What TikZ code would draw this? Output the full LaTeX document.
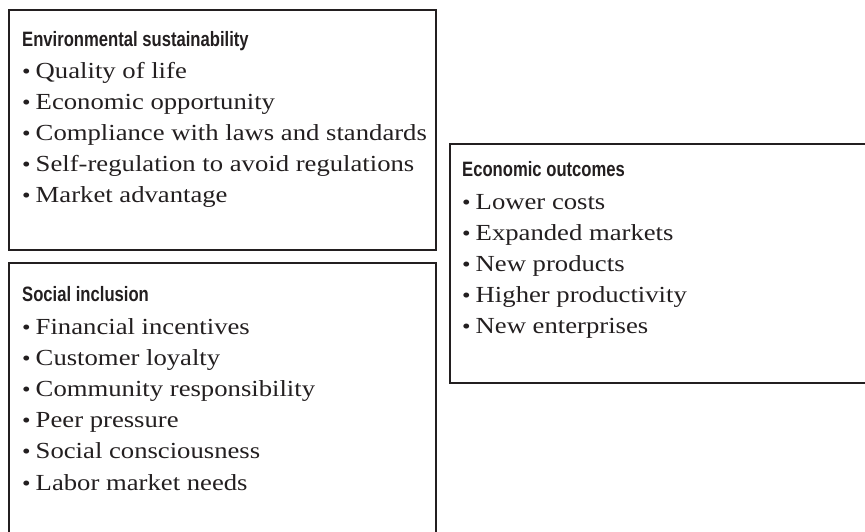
\documentclass[tikz,border=0pt]{standalone}
\usepackage{fontspec}
\setmainfont{Liberation Serif}[FakeStretch=1.16]
\newfontfamily\headfont{Liberation Sans Bold}[FakeStretch=0.8]
\definecolor{ink}{HTML}{231F20}
\newcommand\itm{{\fontsize{21pt}{21pt}\selectfont\textbullet}\hspace{5pt}}
\tikzset{
  panel/.style={draw=ink, line width=2.4pt, anchor=north west, inner sep=0pt},
  head/.style={anchor=base west, inner sep=0pt, text=ink,
    font=\headfont\fontsize{20.8pt}{21pt}\selectfont},
  item/.style={anchor=base west, inner sep=0pt, text=ink,
    font=\fontsize{23pt}{25pt}\selectfont},
}
\begin{document}
\begin{tikzpicture}[x=1pt, y=-1pt]
\path[use as bounding box, clip] (0,0) rectangle (865,531);
% panels
\node[panel, minimum width=427pt, minimum height=240pt] (env) at (8,9) {};
\node[panel, minimum width=427pt, minimum height=300pt] (soc) at (8,262) {};
\node[panel, minimum width=450pt, minimum height=239pt] (eco) at (449,143) {};
% environmental sustainability
\node[head] (envh) at (22,46) {Environmental sustainability};
\foreach \t [count=\i] in {Quality of life, Economic opportunity,
    Compliance with laws and standards, Self-regulation to avoid regulations,
    Market advantage}
  \node[item] (env\i) at (22,{47+31*\i}) {\itm\t};
% social inclusion
\node[head] (soch) at (22,301) {Social inclusion};
\foreach \t [count=\i] in {Financial incentives, Customer loyalty,
    Community responsibility, Peer pressure, Social consciousness,
    Labor market needs}
  \node[item] (soc\i) at (22,{302.8+31.2*\i}) {\itm\t};
% economic outcomes
\node[head] (ecoh) at (462,176) {Economic outcomes};
\foreach \t [count=\i] in {Lower costs, Expanded markets, New products,
    Higher productivity, New enterprises}
  \node[item] (eco\i) at (462,{178+31*\i}) {\itm\t};
\end{tikzpicture}
\end{document}
